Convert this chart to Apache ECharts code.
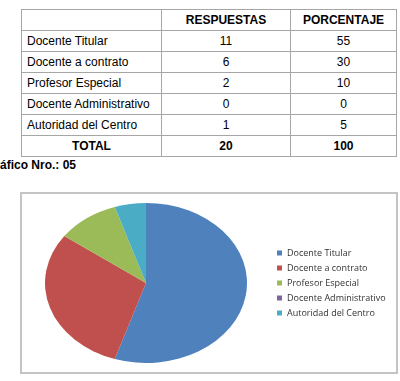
<!DOCTYPE html>
<html>
<head>
<meta charset="utf-8">
<script src="https://cdn.jsdelivr.net/npm/echarts@6/dist/echarts.min.js"></script>
<style>
  body { margin: 0; width: 400px; height: 381px; overflow: hidden; background: #fff; position: relative; font-family: "Liberation Sans", Arial, sans-serif; }
  #tbl { position: absolute; left: 21px; top: 9px; width: 375px; table-layout: fixed; border-collapse: collapse; font-size: 12px; color: #000; }
  #tbl td, #tbl th { border: 1px solid #a6a6a6; height: 20px; padding: 0 5px; overflow: hidden; white-space: nowrap; }
  #tbl th { font-weight: bold; text-align: center; }
  #tbl td.num { text-align: center; }
  #tbl tr.total td { font-weight: bold; text-align: center; }
  #caption { position: absolute; left: -14px; top: 158px; font-size: 12px; font-weight: bold; color: #000; white-space: nowrap; }
  #box { position: absolute; left: 20px; top: 192px; width: 374px; height: 178px; border: 2px solid #c4c4c4; }
  #legendChart { position: absolute; left: 0; top: 0; width: 400px; height: 381px; }
  #pieChart { position: absolute; left: 66px; top: 203px; width: 160px; height: 160px; transform: scaleX(1.2625); transform-origin: 50% 50%; }
</style>
</head>
<body>
<table id="tbl"></table>
<div id="caption">Gráfico Nro.: 05</div>
<div id="box"></div>
<div id="legendChart"></div>
<div id="pieChart"></div>
<script>
// datos de la tabla y del gráfico
const categories = ['Docente Titular', 'Docente a contrato', 'Profesor Especial', 'Docente Administrativo', 'Autoridad del Centro']
const respuestas = [11, 6, 2, 0, 1]
const porcentaje = [55, 30, 10, 0, 5]
const headers = ['', 'RESPUESTAS', 'PORCENTAJE']
const totalRow = ['TOTAL', 20, 100]
const colors = ['#4F81BD', '#C0504D', '#9BBB59', '#8064A2', '#4BACC6']

// tabla
const tbl = document.getElementById('tbl')
const colWidths = [140, 129, 106]
let html = '<colgroup>' + colWidths.map(w => `<col style="width:${w}px">`).join('') + '</colgroup>'
html += '<tr>' + headers.map(h => `<th>${h}</th>`).join('') + '</tr>'
categories.forEach((c, i) => {
  html += `<tr><td>${c}</td><td class="num">${respuestas[i]}</td><td class="num">${porcentaje[i]}</td></tr>`
})
html += '<tr class="total">' + totalRow.map(v => `<td>${v}</td>`).join('') + '</tr>'
tbl.innerHTML = html

const pieData = categories.map((name, i) => ({name, value: porcentaje[i], itemStyle: {color: colors[i]}}))

// leyenda
const legendChart = echarts.init(document.getElementById('legendChart'))
legendChart.setOption({
  animation: false,
  legend: {
    orient: 'vertical',
    left: 277,
    top: 248,
    padding: 0,
    itemWidth: 5,
    itemHeight: 5,
    itemGap: 5,
    itemTextGap: 4,
    icon: 'rect',
    selectedMode: false,
    textStyle: {fontFamily: 'Open Sans', fontSize: 9, color: '#333', lineHeight: 10},
    data: categories
  },
  series: [{
    type: 'pie',
    center: [-500, -500],
    radius: 1,
    label: {show: false},
    data: pieData
  }]
})

// pastel (estirado en elipse)
const pieChart = echarts.init(document.getElementById('pieChart'), null, {renderer: 'svg'})
pieChart.setOption({
  animation: false,
  series: [{
    type: 'pie',
    center: ['50%', '50%'],
    radius: 80,
    startAngle: 90,
    clockwise: true,
    label: {show: false},
    labelLine: {show: false},
    emphasis: {disabled: true},
    itemStyle: {borderWidth: 0},
    data: pieData
  }]
})
</script>
</body>
</html>
